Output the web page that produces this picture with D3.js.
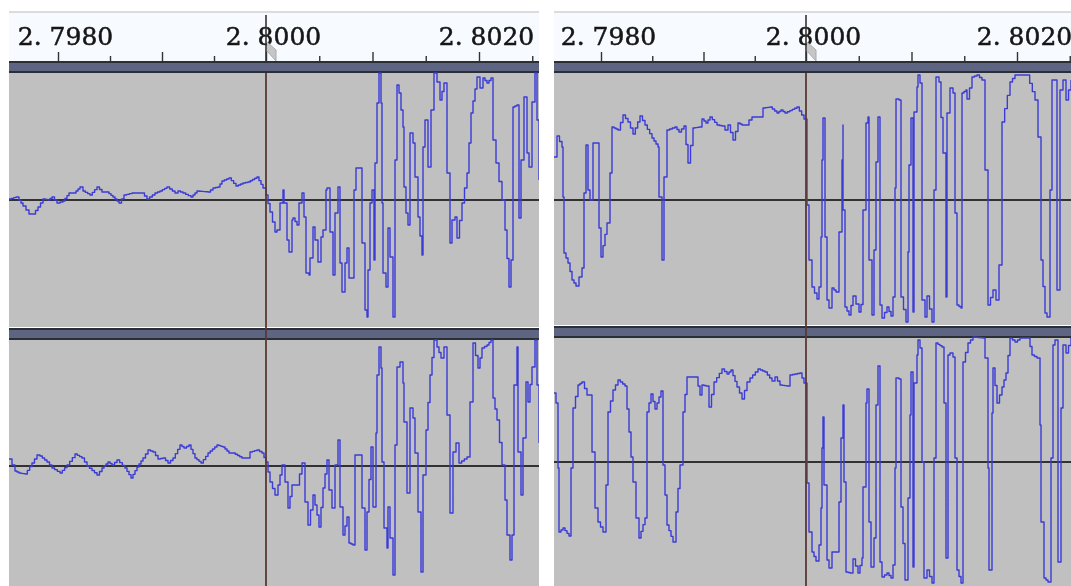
<!DOCTYPE html>
<html lang="en">
<head>
<meta charset="UTF-8">
<title>Waveform zoom</title>
<script src="https://cdn.jsdelivr.net/npm/d3@7"></script>
<style>
    body { margin: 0; background: #fff; }
    svg { display: block; }
</style>
</head>
<body>
<svg width="1071" height="586"></svg>
<script>
// ruler, in seconds
const tickTimes = [2.798, 2.7985, 2.799, 2.7995, 2.8, 2.8005, 2.801, 2.8015, 2.802, 2.8025];
const tickLabels = {2.798: '2. 7980', 2.8: '2. 8000', 2.802: '2. 8020'};
const cursorTime = 2.8;

// waveforms: [samples from cursor, level -127..127]
const leftTop = [[-257,1],[-250,3],[-247,0],[-243,-6],[-237,-14],[-233,-14],[-228,-7],[-223,1],[-218,0],[-214,3],[-209,-3],[-203,-1],[-197,7],[-192,7],[-186,13],[-183,9],[-176,5],[-169,13],[-164,8],[-159,8],[-153,3],[-147,-3],[-142,5],[-134,7],[-124,7],[-119,1],[-111,7],[-106,9],[-99,13],[-91,7],[-88,9],[-83,7],[-75,3],[-69,9],[-58,8],[-53,12],[-48,13],[-44,19],[-37,22],[-30,14],[-23,17],[-18,18],[-9,23],[-3,12],
    [0,5],[4,-12],[9,-32],[11,-30],[14,-3],[17,10],[18,-3],[21,-40],[23,-52],[26,-20],[27,-18],[31,-25],[33,-3],[36,7],[38,-17],[40,-73],[43,-75],[44,-58],[47,-27],[49,-40],[52,-62],[55,-37],[57,-30],[60,10],[61,12],[64,-32],[67,-75],[69,-13],[72,13],[74,-63],[76,-92],[79,-63],[81,-48],[83,-78],[86,-78],[88,10],[90,32],[93,32],[96,-43],[99,-110],[101,-117],[102,-70],[104,-3],[106,10],[108,-60],[109,37],[111,97],[113,127],[115,97],[116,-3],[117,-73],[120,-87],[122,-28],[124,-57],[127,-117],[129,40],[131,115],[133,107],[137,73],[138,13],[140,-13],[142,-25],[144,67],[147,57],[149,23],[152,-17],[156,-55],[157,53],[159,80],[162,33],[165,90],[168,127],[171,118],[174,100],[178,117],[181,27],[184,-43],[186,-20],[189,-17],[191,-38],[196,-3],[201,27],[205,87],[211,123],[214,112],[217,122],[221,117],[225,122],[227,60],[230,37],[236,0],[239,-30],[243,-87],[245,-60],[247,93],[251,95],[253,-18],[255,40],[258,103],[261,47],[263,33],[266,98],[269,127],[271,80],[273,20]];

const leftBottom = [[-257,7],[-251,-5],[-247,-7],[-241,-8],[-234,3],[-229,11],[-226,10],[-219,4],[-214,-2],[-206,-7],[-199,1],[-191,12],[-184,8],[-179,0],[-169,-9],[-164,-2],[-158,4],[-154,1],[-149,6],[-141,-2],[-135,-12],[-129,-1],[-123,8],[-118,16],[-113,14],[-108,7],[-103,8],[-98,3],[-93,8],[-86,21],[-82,18],[-77,21],[-71,8],[-65,3],[-58,13],[-49,21],[-43,19],[-37,13],[-33,13],[-24,8],[-19,8],[-16,14],[-9,16],[-4,13],
    [0,4],[4,-16],[9,-29],[12,-19],[16,1],[19,-16],[22,-42],[26,-19],[31,-19],[36,3],[39,-36],[42,-59],[47,-29],[51,-49],[53,-61],[57,-22],[61,6],[63,-24],[66,-42],[69,1],[72,26],[74,-41],[77,-69],[81,-51],[83,-77],[87,-79],[89,11],[93,11],[96,-42],[99,-84],[101,-46],[105,19],[107,-41],[110,33],[111,91],[113,119],[115,98],[116,4],[118,-62],[121,-82],[122,-41],[124,-72],[127,-109],[129,21],[131,99],[134,104],[137,83],[138,44],[141,-27],[144,58],[147,48],[149,13],[152,-46],[155,-106],[157,-9],[160,36],[164,91],[168,126],[171,119],[175,108],[178,119],[181,51],[184,-47],[187,14],[190,23],[193,3],[201,9],[204,64],[207,123],[212,98],[216,118],[221,121],[225,126],[227,68],[231,46],[236,1],[239,-34],[241,-69],[244,-94],[246,-69],[248,81],[251,119],[252,14],[255,-29],[257,28],[260,84],[262,64],[266,99],[269,126],[271,81],[273,23]];

const rightTop = [[-252,43],[-249,64],[-244,53],[-243,3],[-242,-53],[-238,-63],[-234,-80],[-230,-86],[-224,-68],[-222,7],[-220,55],[-218,10],[-216,0],[-213,57],[-209,57],[-207,-28],[-205,-57],[-199,-23],[-196,27],[-194,73],[-188,70],[-183,85],[-178,78],[-173,66],[-166,84],[-161,75],[-154,62],[-148,53],[-147,3],[-144,-60],[-142,23],[-139,70],[-131,73],[-127,68],[-122,74],[-118,37],[-113,72],[-107,73],[-104,81],[-100,77],[-96,83],[-89,75],[-84,74],[-81,70],[-78,75],[-73,60],[-68,77],[-64,75],[-59,75],[-57,80],[-54,83],[-46,83],[-43,92],[-36,93],[-29,87],[-25,90],[-21,87],[-9,93],[-2,81],
    [1,52],[1,-5],[3,-60],[6,-87],[11,-99],[13,-87],[15,-37],[16,40],[17,82],[19,-37],[21,-100],[23,-108],[26,-88],[30,-92],[33,-32],[36,40],[37,75],[37,-10],[39,-107],[43,-115],[47,-96],[53,-112],[57,-97],[57,-10],[60,77],[62,83],[63,-60],[66,-115],[68,-50],[70,38],[72,83],[74,-105],[76,-118],[81,-107],[85,-116],[87,-97],[89,12],[90,101],[93,100],[95,-97],[100,-122],[102,-52],[103,35],[105,82],[107,-112],[108,88],[111,113],[112,125],[114,117],[116,-100],[119,-117],[121,-96],[126,-122],[128,10],[130,123],[133,118],[137,47],[140,-97],[141,87],[144,112],[147,107],[149,-13],[151,-105],[155,-108],[156,107],[160,110],[161,101],[166,123],[171,125],[176,120],[179,30],[182,-105],[187,-90],[190,-100],[193,-65],[196,78],[204,118],[209,125],[221,125],[229,100],[232,63],[235,-60],[239,-113],[241,-117],[244,10],[246,120],[249,120],[251,-90],[254,110],[257,120],[260,100],[265,120]];

const rightBottom = [[-252,69],[-250,59],[-248,-6],[-247,-70],[-243,-66],[-237,-74],[-235,-6],[-233,54],[-228,77],[-224,80],[-219,67],[-216,67],[-214,10],[-211,-46],[-208,-60],[-203,-70],[-200,-23],[-198,50],[-193,72],[-188,82],[-181,76],[-177,30],[-173,-20],[-170,-56],[-167,-76],[-161,-56],[-159,50],[-155,68],[-151,53],[-145,71],[-143,-3],[-139,-63],[-133,-80],[-130,-50],[-126,-3],[-123,50],[-119,85],[-110,85],[-106,67],[-104,77],[-100,76],[-97,55],[-92,80],[-84,93],[-79,88],[-75,92],[-69,75],[-64,63],[-59,80],[-56,84],[-48,93],[-41,90],[-34,81],[-31,85],[-26,77],[-19,76],[-16,87],[-6,89],[-2,79],
    [1,42],[1,-21],[3,-70],[6,-90],[10,-99],[13,-83],[15,-46],[16,14],[17,45],[18,-23],[21,-98],[23,-106],[26,-90],[31,-90],[33,-40],[35,24],[37,57],[38,-20],[40,-110],[44,-111],[47,-97],[52,-111],[56,-96],[57,-25],[60,59],[61,73],[63,-60],[65,-105],[68,-76],[70,57],[72,96],[74,-100],[76,-115],[81,-111],[85,-116],[87,-103],[89,-6],[90,84],[93,83],[95,-45],[99,-118],[102,-36],[104,47],[105,90],[107,-105],[108,79],[111,107],[112,122],[114,114],[116,0],[118,-116],[121,-108],[126,-121],[128,4],[130,119],[136,115],[138,59],[140,-96],[142,107],[144,109],[147,105],[149,4],[151,-108],[155,-121],[157,100],[162,119],[167,125],[177,124],[179,104],[182,-6],[183,-108],[186,49],[187,94],[191,59],[196,75],[200,89],[204,124],[209,120],[214,124],[222,124],[226,107],[231,104],[234,37],[235,-60],[238,-116],[242,-120],[245,4],[247,117],[249,122],[252,-100],[255,54],[257,117],[260,109],[265,124]];

const svg = d3.select('svg');
const defs = svg.append('defs');
defs.append('filter').attr('id', 'soft').append('feGaussianBlur').attr('stdDeviation', 0.45);

const timeExtent = [2.798, 2.8, 2.802];
const sampleExtent = side => side === 'left' ? [-208, 0, 213] : [-205, 0, 211];

// the reference looks like a low-res capture, so draw each segment as small stairs
function curveStairs(context) {
    let x0, y0;
    return {
        lineStart() { x0 = undefined; },
        lineEnd() {},
        point(x, y) {
            if (x0 === undefined) {
                context.moveTo(x, y);
            } else {
                const n = Math.max(1, Math.round((x - x0) / 2.4));
                for (let i = 1; i <= n; i++) {
                    const xi = x0 + (x - x0) * i / n;
                    context.lineTo(xi, y0 + (y - y0) * (i - 1) / n);
                    context.lineTo(xi, y0 + (y - y0) * i / n);
                }
            }
            x0 = x;
            y0 = y;
        }
    };
}

function drawColumn(side, left, right, tickPx, tracks) {
    const xTime = d3.scaleLinear().domain(timeExtent).range(tickPx);
    const xSample = d3.scaleLinear().domain(sampleExtent(side)).range(tickPx);
    const g = svg.append('g').attr('filter', 'url(#soft)');
    const clipId = 'clip-' + side;
    defs.append('clipPath').attr('id', clipId).append('rect')
        .attr('x', left).attr('y', 0).attr('width', right - left).attr('height', 586);

    // ruler
    g.append('rect').attr('x', left).attr('y', 12).attr('width', right - left).attr('height', 50).attr('fill', '#f7faff');
    g.append('rect').attr('x', left).attr('y', 11).attr('width', right - left).attr('height', 2).attr('fill', '#dcdcdc');

    const axis = d3.axisTop(xTime).tickValues(tickTimes).tickSizeOuter(0)
        .tickSize(8).tickFormat(d => tickLabels[d] || '');
    const axisG = g.append('g').attr('transform', 'translate(0,61)').call(axis);
    axisG.select('.domain').remove();
    axisG.selectAll('.tick line').attr('stroke', '#333').attr('stroke-width', 1.4)
        .attr('y2', d => Math.round(d * 10000) % 10 === 0 ? -9 : -5);
    axisG.selectAll('.tick text')
        .attr('x', 7).attr('y', -16).attr('fill', '#151515')
        .attr('stroke', '#151515').attr('stroke-width', 0.5)
        .style('font-family', '"DejaVu Serif"').style('font-size', '25px').style('text-anchor', 'middle');

    // tracks
    tracks.forEach(t => {
        g.append('rect').attr('x', left).attr('y', t.top).attr('width', right - left).attr('height', t.bottom - t.top).attr('fill', '#c0c0c0');
        g.append('rect').attr('x', left).attr('y', t.top - 12).attr('width', right - left).attr('height', 12).attr('fill', '#2b2d35');
        g.append('rect').attr('x', left).attr('y', t.top - 10).attr('width', right - left).attr('height', 8).attr('fill', '#5d6583');

        const y = d3.scaleLinear().domain([-127, 127]).range([t.center + 127, t.center - 127]);
        g.append('line').attr('x1', left).attr('x2', right).attr('y1', y(0)).attr('y2', y(0))
            .attr('stroke', '#333').attr('stroke-width', 1.8);

        const line = d3.line().x(d => xSample(d[0])).y(d => y(d[1])).curve(curveStairs);
        g.append('path').datum(t.wave).attr('d', line).attr('fill', 'none')
            .attr('stroke', '#3a3ad6').attr('stroke-width', 1.4)
            .attr('stroke-linejoin', 'round').attr('clip-path', `url(#${clipId})`);
    });

    // cursor
    const cx = xTime(cursorTime);
    g.append('line').attr('x1', cx).attr('x2', cx).attr('y1', 73).attr('y2', 586)
        .attr('stroke', '#5a3834').attr('stroke-width', 1.8);
    g.append('line').attr('x1', cx).attr('x2', cx).attr('y1', 15).attr('y2', 62)
        .attr('stroke', '#333').attr('stroke-width', 1.6);
    g.append('path')
        .attr('d', d3.line()([[cx + 1, 42], [cx + 10, 50], [cx + 10, 61], [cx + 1, 51]]))
        .attr('fill', '#c6c6c6').attr('stroke', '#aaa');
}

drawColumn('left', 9, 539, [58, 266, 479], [
    {top: 73, bottom: 327, center: 200, wave: leftTop},
    {top: 340, bottom: 586, center: 466, wave: leftBottom}]);
drawColumn('right', 554, 1071, [601, 806, 1017], [
    {top: 73, bottom: 325, center: 200, wave: rightTop},
    {top: 338, bottom: 586, center: 462, wave: rightBottom}]);
</script>
</body>
</html>
